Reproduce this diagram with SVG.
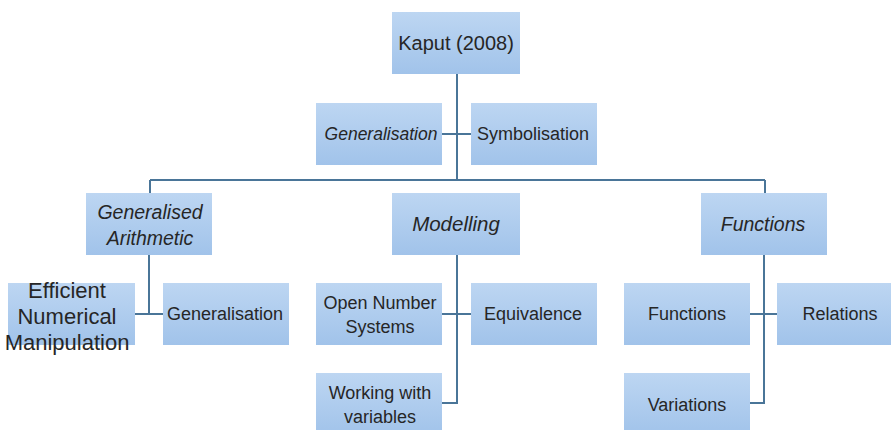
<svg xmlns="http://www.w3.org/2000/svg" width="891" height="430" viewBox="0 0 891 430">
<defs>
<linearGradient id="g" x1="0" y1="0" x2="0" y2="1">
<stop offset="0" stop-color="#bdd6f2"/>
<stop offset="1" stop-color="#a1c3ea"/>
</linearGradient>
<style>
.box{fill:url(#g);}
.t{font-family:"Liberation Sans",Arial,sans-serif;font-size:18px;fill:#262626;text-anchor:middle;}
.i{font-style:italic;}
.c{fill:none;stroke:#4a7598;stroke-width:2;}
</style>
</defs>
<rect width="891" height="430" fill="#ffffff"/>
<g id="connectors">
<path class="c" d="M457 74V180M442 134H471M150 180H765M150 180V193M765 180V193"/>
<path class="c" d="M149 255V314M135 314H163"/>
<path class="c" d="M457 255V403H442M442 314H471"/>
<path class="c" d="M764 255V403H750M750 314H777"/>
</g>
<g id="kaput"><rect class="box" x="392" y="12" width="128" height="62"/><text class="t" x="456" y="50" style="font-size:20px">Kaput (2008)</text></g>
<g id="generalisation-top"><rect class="box" x="316" y="103" width="126" height="62"/><text class="t i" x="381" y="140" style="font-size:17.5px">Generalisation</text></g>
<g id="symbolisation"><rect class="box" x="471" y="103" width="126" height="62"/><text class="t" x="533" y="140">Symbolisation</text></g>
<g id="generalised-arithmetic"><rect class="box" x="86" y="193" width="126" height="62"/><text class="t i" x="150" y="219" style="font-size:19.5px">Generalised</text><text class="t i" x="150" y="245" style="font-size:19.5px">Arithmetic</text></g>
<g id="modelling"><rect class="box" x="392" y="193" width="128" height="62"/><text class="t i" x="456" y="231" style="font-size:20.5px">Modelling</text></g>
<g id="functions-top"><rect class="box" x="701" y="193" width="126" height="62"/><text class="t i" x="763" y="231" style="font-size:19.5px">Functions</text></g>
<g id="efficient"><rect class="box" x="8" y="283" width="127" height="62"/><text class="t" x="67" y="298" style="font-size:22px">Efficient</text><text class="t" x="67" y="324" style="font-size:22px">Numerical</text><text class="t" x="67" y="350" style="font-size:22px">Manipulation</text></g>
<g id="generalisation"><rect class="box" x="163" y="283" width="126" height="62"/><text class="t" x="225" y="320">Generalisation</text></g>
<g id="open-number"><rect class="box" x="316" y="283" width="126" height="62"/><text class="t" x="380" y="309">Open Number</text><text class="t" x="380" y="333">Systems</text></g>
<g id="equivalence"><rect class="box" x="471" y="283" width="126" height="62"/><text class="t" x="533" y="320">Equivalence</text></g>
<g id="working"><rect class="box" x="316" y="373" width="126" height="62"/><text class="t" x="380" y="399">Working with</text><text class="t" x="380" y="423">variables</text></g>
<g id="functions"><rect class="box" x="624" y="283" width="126" height="62"/><text class="t" x="687" y="320">Functions</text></g>
<g id="relations"><rect class="box" x="777" y="283" width="126" height="62"/><text class="t" x="840" y="320">Relations</text></g>
<g id="variations"><rect class="box" x="624" y="373" width="126" height="62"/><text class="t" x="687" y="411">Variations</text></g>
</svg>
